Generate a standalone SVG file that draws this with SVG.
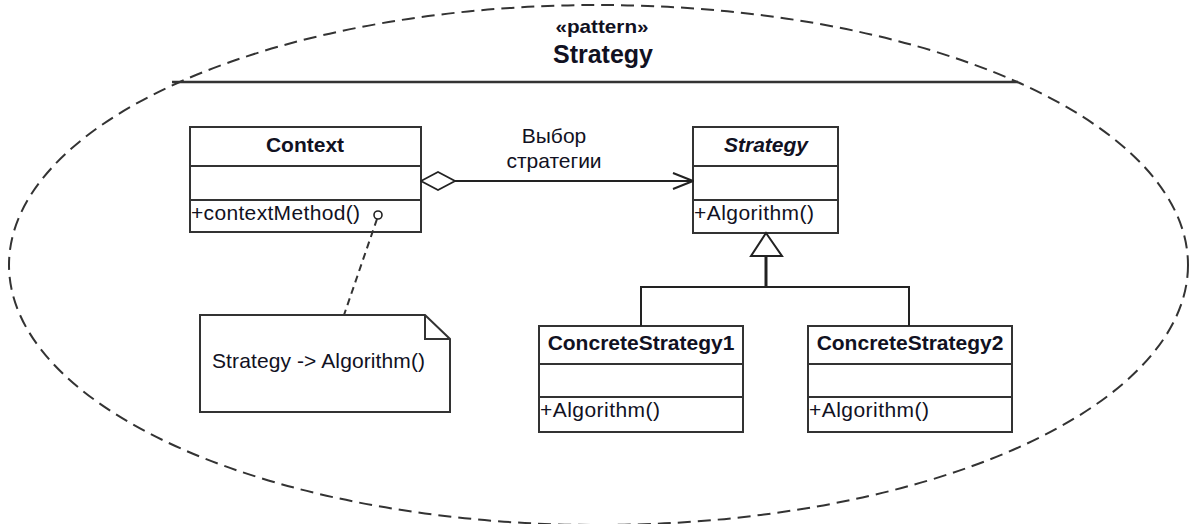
<svg xmlns="http://www.w3.org/2000/svg" width="1189" height="524" viewBox="0 0 1189 524">
  <style>
    text { font-family: "Liberation Sans", Arial, sans-serif; fill: #111122; }
    .t { font-size: 21px; }
    .b { font-weight: bold; }
    .i { font-style: italic; }
    .box { fill: #ffffff; stroke: #333333; stroke-width: 2; }
    .sep { stroke: #333333; stroke-width: 2; }
    .edge { fill: none; stroke: #222222; stroke-width: 2; }
    .dash { fill: none; stroke: #333333; stroke-width: 2; stroke-dasharray: 13 7; }
  </style>
  <defs>
    <marker id="openArrow" viewBox="0 0 22 18" refX="21" refY="9" markerWidth="22" markerHeight="18" markerUnits="userSpaceOnUse" orient="auto">
      <path d="M1,1 L21,9 L1,17" fill="none" stroke="#222222" stroke-width="2"/>
    </marker>
    <marker id="diamond" viewBox="0 0 36 20" refX="1" refY="10" markerWidth="36" markerHeight="20" markerUnits="userSpaceOnUse" orient="auto">
      <path d="M1,10 L18,1 L35,10 L18,19 Z" fill="#ffffff" stroke="#222222" stroke-width="1.6"/>
    </marker>
  </defs>

  <!-- pattern collaboration ellipse -->
  <g id="pattern">
    <ellipse cx="598.5" cy="265" rx="589.5" ry="260" class="dash"/>
    <line x1="172" y1="82" x2="1018" y2="82" stroke="#333333" stroke-width="2.5"/>
    <text x="602" y="33" text-anchor="middle" class="b" style="font-size:19px" textLength="93" lengthAdjust="spacingAndGlyphs">«pattern»</text>
    <text x="603" y="63" text-anchor="middle" class="b" style="font-size:25px">Strategy</text>
  </g>

  <g id="context">
    <rect x="190" y="127" width="231" height="105" class="box"/>
    <line x1="190" y1="166" x2="421" y2="166" class="sep"/>
    <line x1="190" y1="200" x2="421" y2="200" class="sep"/>
    <text x="305" y="152" text-anchor="middle" class="t b">Context</text>
    <text x="191" y="220" class="t" textLength="169" lengthAdjust="spacing">+contextMethod()</text>
  </g>

  <g id="strategy">
    <rect x="693" y="127" width="145" height="106" class="box"/>
    <line x1="693" y1="166" x2="838" y2="166" class="sep"/>
    <line x1="693" y1="200" x2="838" y2="200" class="sep"/>
    <text x="766" y="152" text-anchor="middle" class="t b i">Strategy</text>
    <text x="694" y="220" class="t" textLength="120" lengthAdjust="spacing">+Algorithm()</text>
  </g>

  <g id="concrete1">
    <rect x="539" y="326" width="204" height="106" class="box"/>
    <line x1="539" y1="364" x2="743" y2="364" class="sep"/>
    <line x1="539" y1="397" x2="743" y2="397" class="sep"/>
    <text x="641" y="350" text-anchor="middle" class="t b">ConcreteStrategy1</text>
    <text x="540" y="417" class="t" textLength="120" lengthAdjust="spacing">+Algorithm()</text>
  </g>

  <g id="concrete2">
    <rect x="808" y="326" width="204" height="106" class="box"/>
    <line x1="808" y1="364" x2="1012" y2="364" class="sep"/>
    <line x1="808" y1="397" x2="1012" y2="397" class="sep"/>
    <text x="910" y="350" text-anchor="middle" class="t b">ConcreteStrategy2</text>
    <text x="809" y="417" class="t" textLength="120" lengthAdjust="spacing">+Algorithm()</text>
  </g>

  <g id="note">
    <path d="M200,315 L425,315 L450,339 L450,412 L200,412 Z" class="box"/>
    <path d="M425,315 L425,339 L450,339" fill="none" stroke="#333333" stroke-width="2"/>
    <text x="212" y="368" class="t" textLength="213" lengthAdjust="spacing">Strategy -&gt; Algorithm()</text>
  </g>

  <!-- connectors -->
  <g id="connectors">
    <line x1="421" y1="181" x2="693" y2="181" class="edge" marker-start="url(#diamond)" marker-end="url(#openArrow)"/>
    <text x="554" y="143" text-anchor="middle" class="t">Выбор</text>
    <text x="554" y="168" text-anchor="middle" class="t">стратегии</text>
    <!-- generalization -->
    <polygon points="766,233 751,256 782,256" fill="#ffffff" stroke="#222222" stroke-width="2"/>
    <line x1="766" y1="256" x2="766" y2="287" stroke="#222222" stroke-width="3"/>
    <polyline points="641,326 641,287 909,287 909,326" class="edge"/>
    <!-- note anchor -->
    <line x1="377" y1="219" x2="344" y2="315" stroke="#333333" stroke-width="2" stroke-dasharray="7 5"/>
    <circle cx="378" cy="215" r="4" fill="#ffffff" stroke="#222222" stroke-width="1.6"/>
  </g>
</svg>
